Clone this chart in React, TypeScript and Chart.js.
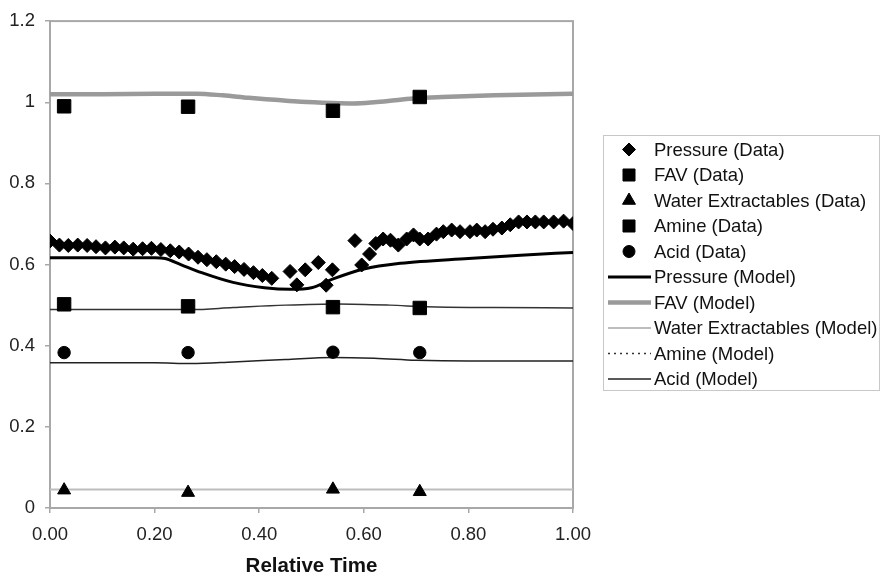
import React, { useEffect, useRef } from 'react';
import { Chart, registerables } from 'chart.js';

Chart.register(...registerables);

const FONT = '"Liberation Sans", Arial, Helvetica, sans-serif';

// ---- Data ----
const xTickLabels = ['0.00', '0.20', '0.40', '0.60', '0.80', '1.00'];
const yTickLabels = ['0', '0.2', '0.4', '0.6', '0.8', '1', '1.2'];

const pressureTime = [
  0.000, 0.018, 0.035, 0.053, 0.071, 0.088, 0.106, 0.124, 0.141, 0.159, 0.177, 0.194, 0.212,
  0.230, 0.247, 0.265, 0.283, 0.300, 0.318, 0.336, 0.353, 0.371, 0.389, 0.406, 0.424,
  0.459, 0.472, 0.488, 0.513, 0.528, 0.540, 0.583, 0.596, 0.611, 0.623,
  0.637, 0.651, 0.666, 0.682, 0.695, 0.707, 0.723, 0.739, 0.752, 0.768, 0.784, 0.803,
  0.816, 0.832, 0.847, 0.864, 0.880, 0.896, 0.912, 0.928, 0.944, 0.963, 0.982, 1.000,
];
const pressureValue = [
  0.658, 0.648, 0.647, 0.648, 0.647, 0.644, 0.641, 0.643, 0.641, 0.638, 0.639, 0.640, 0.637,
  0.634, 0.631, 0.626, 0.618, 0.612, 0.607, 0.601, 0.595, 0.588, 0.580, 0.573, 0.566,
  0.583, 0.550, 0.587, 0.605, 0.549, 0.587, 0.659, 0.599, 0.626, 0.652,
  0.663, 0.660, 0.648, 0.663, 0.673, 0.663, 0.663, 0.675, 0.681, 0.685, 0.681, 0.681,
  0.685, 0.681, 0.687, 0.690, 0.698, 0.705, 0.705, 0.705, 0.705, 0.705, 0.707, 0.701,
];

const sampleTime = [0.027, 0.264, 0.541, 0.707];
const favData = [0.990, 0.989, 0.979, 1.013];
const waterData = [0.044, 0.038, 0.046, 0.040];
const amineData = [0.502, 0.497, 0.495, 0.493];
const acidData = [0.383, 0.383, 0.384, 0.383];

const pressureModelTime = [0, 0.1, 0.2, 0.22, 0.25, 0.29, 0.35, 0.41, 0.46, 0.5, 0.54, 0.6, 0.67, 0.8, 0.9, 1.0];
const pressureModelValue = [0.617, 0.617, 0.617, 0.615, 0.600, 0.580, 0.556, 0.543, 0.539, 0.543, 0.564, 0.589, 0.603, 0.615, 0.623, 0.630];

const favModelTime = [0, 0.1, 0.2, 0.28, 0.33, 0.38, 0.43, 0.48, 0.54, 0.58, 0.62, 0.66, 0.7, 0.75, 0.85, 1.0];
const favModelValue = [1.020, 1.020, 1.021, 1.021, 1.017, 1.011, 1.006, 1.001, 0.998, 0.997, 1.000, 1.005, 1.010, 1.013, 1.017, 1.021];

const waterModelTime = [0, 0.25, 0.5, 0.75, 1.0];
const waterModelValue = [0.0457, 0.0457, 0.0455, 0.0455, 0.0457];

const amineModelTime = [0, 0.15, 0.27, 0.35, 0.45, 0.55, 0.65, 0.72, 0.85, 1.0];
const amineModelValue = [0.489, 0.489, 0.489, 0.494, 0.500, 0.503, 0.500, 0.496, 0.494, 0.493];

const acidModelTime = [0, 0.1, 0.2, 0.27, 0.35, 0.45, 0.54, 0.62, 0.7, 0.8, 1.0];
const acidModelValue = [0.358, 0.358, 0.358, 0.356, 0.360, 0.366, 0.371, 0.369, 0.364, 0.362, 0.362];

const zip = (xs: number[], ys: number[]) => xs.map((x, i) => ({ x, y: ys[i] }));

// ---- Marker drawing for the legend ----
function drawMarker(ctx: CanvasRenderingContext2D, style: string, x: number, y: number, r: number) {
  ctx.beginPath();
  if (style === 'rectRot') {
    ctx.moveTo(x - r, y); ctx.lineTo(x, y - r); ctx.lineTo(x + r, y); ctx.lineTo(x, y + r);
    ctx.closePath();
  } else if (style === 'rect') {
    const s = r * Math.SQRT1_2;
    ctx.rect(x - s, y - s, 2 * s, 2 * s);
  } else if (style === 'triangle') {
    const a = (2 * Math.PI) / 3;
    ctx.moveTo(x, y - r);
    ctx.lineTo(x + Math.sin(a) * r, y - Math.cos(a) * r);
    ctx.lineTo(x + Math.sin(2 * a) * r, y - Math.cos(2 * a) * r);
    ctx.closePath();
  } else {
    ctx.arc(x, y, r, 0, Math.PI * 2);
  }
  ctx.fill();
  ctx.stroke();
}

const framePlugin = {
  id: 'plotFrame',
  beforeDatasetsDraw(chart: any) {
    const { ctx, chartArea: a } = chart;
    ctx.save();
    ctx.strokeStyle = '#a8a8a8';
    ctx.lineWidth = 2;
    ctx.strokeRect(a.left, a.top, a.right - a.left, a.bottom - a.top);
    ctx.restore();
  },
};

const boxLegendPlugin = {
  id: 'boxLegend',
  afterDraw(chart: any) {
    const ctx: CanvasRenderingContext2D = chart.ctx;
    const L = 603, T = 135, R = 880, B = 391;
    const rowTop = 149.5, rowStep = 25.5;
    ctx.save();
    ctx.fillStyle = '#ffffff';
    ctx.fillRect(L, T, R - L, B - T);
    ctx.strokeStyle = '#c8c8c8';
    ctx.lineWidth = 1;
    ctx.strokeRect(L + 0.5, T + 0.5, R - L - 1, B - T - 1);
    chart.data.datasets.forEach((ds: any, i: number) => {
      const y = rowTop + i * rowStep;
      ctx.save();
      if (ds.showLine) {
        ctx.strokeStyle = ds.borderColor;
        ctx.lineWidth = ds.borderWidth;
        ctx.setLineDash(ds.legendDash || []);
        ctx.beginPath();
        ctx.moveTo(608, y);
        ctx.lineTo(651, y);
        ctx.stroke();
      } else {
        ctx.fillStyle = ds.backgroundColor;
        ctx.strokeStyle = ds.borderColor;
        ctx.lineWidth = 1;
        drawMarker(ctx, ds.pointStyle, 629, y, ds.legendRadius);
      }
      ctx.restore();
      ctx.fillStyle = '#111';
      ctx.font = `18.5px ${FONT}`;
      ctx.textAlign = 'left';
      ctx.textBaseline = 'middle';
      ctx.fillText(ds.label, 654, y + 1);
    });
    ctx.restore();
  },
};

export default function App() {
  const ref = useRef<HTMLCanvasElement | null>(null);

  useEffect(() => {
    if (!ref.current) return;
    const scatter = (label: string, xs: number[], ys: number[], style: string, r: number, lr: number) => ({
      label,
      data: zip(xs, ys),
      showLine: false,
      pointStyle: style,
      pointRadius: r,
      legendRadius: lr,
      pointBorderWidth: 1,
      backgroundColor: '#000',
      borderColor: '#000',
      order: 0,
    });
    const model = (label: string, xs: number[], ys: number[], color: string, width: number, legendDash?: number[]) => ({
      label,
      data: zip(xs, ys),
      showLine: true,
      pointRadius: 0,
      borderColor: color,
      backgroundColor: color,
      borderWidth: width,
      cubicInterpolationMode: 'monotone',
      legendDash,
      order: 1,
    });

    const chart = new Chart(ref.current, {
      type: 'scatter',
      data: {
        datasets: [
          scatter('Pressure (Data)', pressureTime, pressureValue, 'rectRot', 7, 6.5),
          scatter('FAV (Data)', sampleTime, favData, 'rect', 9.5, 8.5),
          scatter('Water Extractables (Data)', sampleTime, waterData, 'triangle', 7.5, 7.5),
          scatter('Amine (Data)', sampleTime, amineData, 'rect', 9.5, 8.5),
          scatter('Acid (Data)', sampleTime, acidData, 'circle', 6.2, 6),
          model('Pressure (Model)', pressureModelTime, pressureModelValue, '#000000', 3),
          model('FAV (Model)', favModelTime, favModelValue, '#9a9a9a', 4.5),
          model('Water Extractables (Model)', waterModelTime, waterModelValue, '#bdbdbd', 2),
          model('Amine (Model)', amineModelTime, amineModelValue, '#333333', 1.5, [2, 4]),
          model('Acid (Model)', acidModelTime, acidModelValue, '#222222', 1.5),
        ] as any,
      },
      options: {
        animation: false,
        responsive: false,
        maintainAspectRatio: false,
        layout: { padding: { left: 0, top: 18, right: 308, bottom: 0 } },
        plugins: { legend: { display: false }, tooltip: { enabled: false } },
        scales: {
          x: {
            type: 'linear',
            min: 0,
            max: 1,
            ticks: {
              stepSize: 0.2,
              padding: 11,
              color: '#222',
              font: { family: FONT, size: 18.5 },
              callback: (v: any) => xTickLabels[Math.round(Number(v) / 0.2)] ?? '',
            },
            grid: { drawOnChartArea: false, drawTicks: true, tickLength: 5, color: '#a8a8a8', lineWidth: 1.5 },
            border: { display: true, color: '#a8a8a8', width: 2 },
            title: {
              display: true,
              text: 'Relative Time',
              color: '#111',
              font: { family: FONT, size: 20.5, weight: 'bold', lineHeight: 0.8 },
              padding: { top: 0, bottom: 0 },
            },
            afterFit: (s: any) => { s.height = 67; },
          },
          y: {
            type: 'linear',
            min: 0,
            max: 1.2,
            ticks: {
              stepSize: 0.2,
              padding: 10,
              color: '#222',
              font: { family: FONT, size: 18.5 },
              callback: (v: any) => yTickLabels[Math.round(Number(v) / 0.2)] ?? '',
            },
            grid: { drawOnChartArea: false, drawTicks: true, tickLength: 5, color: '#a8a8a8', lineWidth: 1.5 },
            border: { display: true, color: '#a8a8a8', width: 2 },
            afterFit: (s: any) => { s.width = 50; },
          },
        },
      } as any,
      plugins: [framePlugin, boxLegendPlugin],
    });
    return () => chart.destroy();
  }, []);

  return (
    <div style={{ position: 'fixed', left: 0, top: 0, width: 881, height: 575, background: '#fff' }}>
      <canvas ref={ref} width={881} height={575} style={{ display: 'block' }} />
    </div>
  );
}
